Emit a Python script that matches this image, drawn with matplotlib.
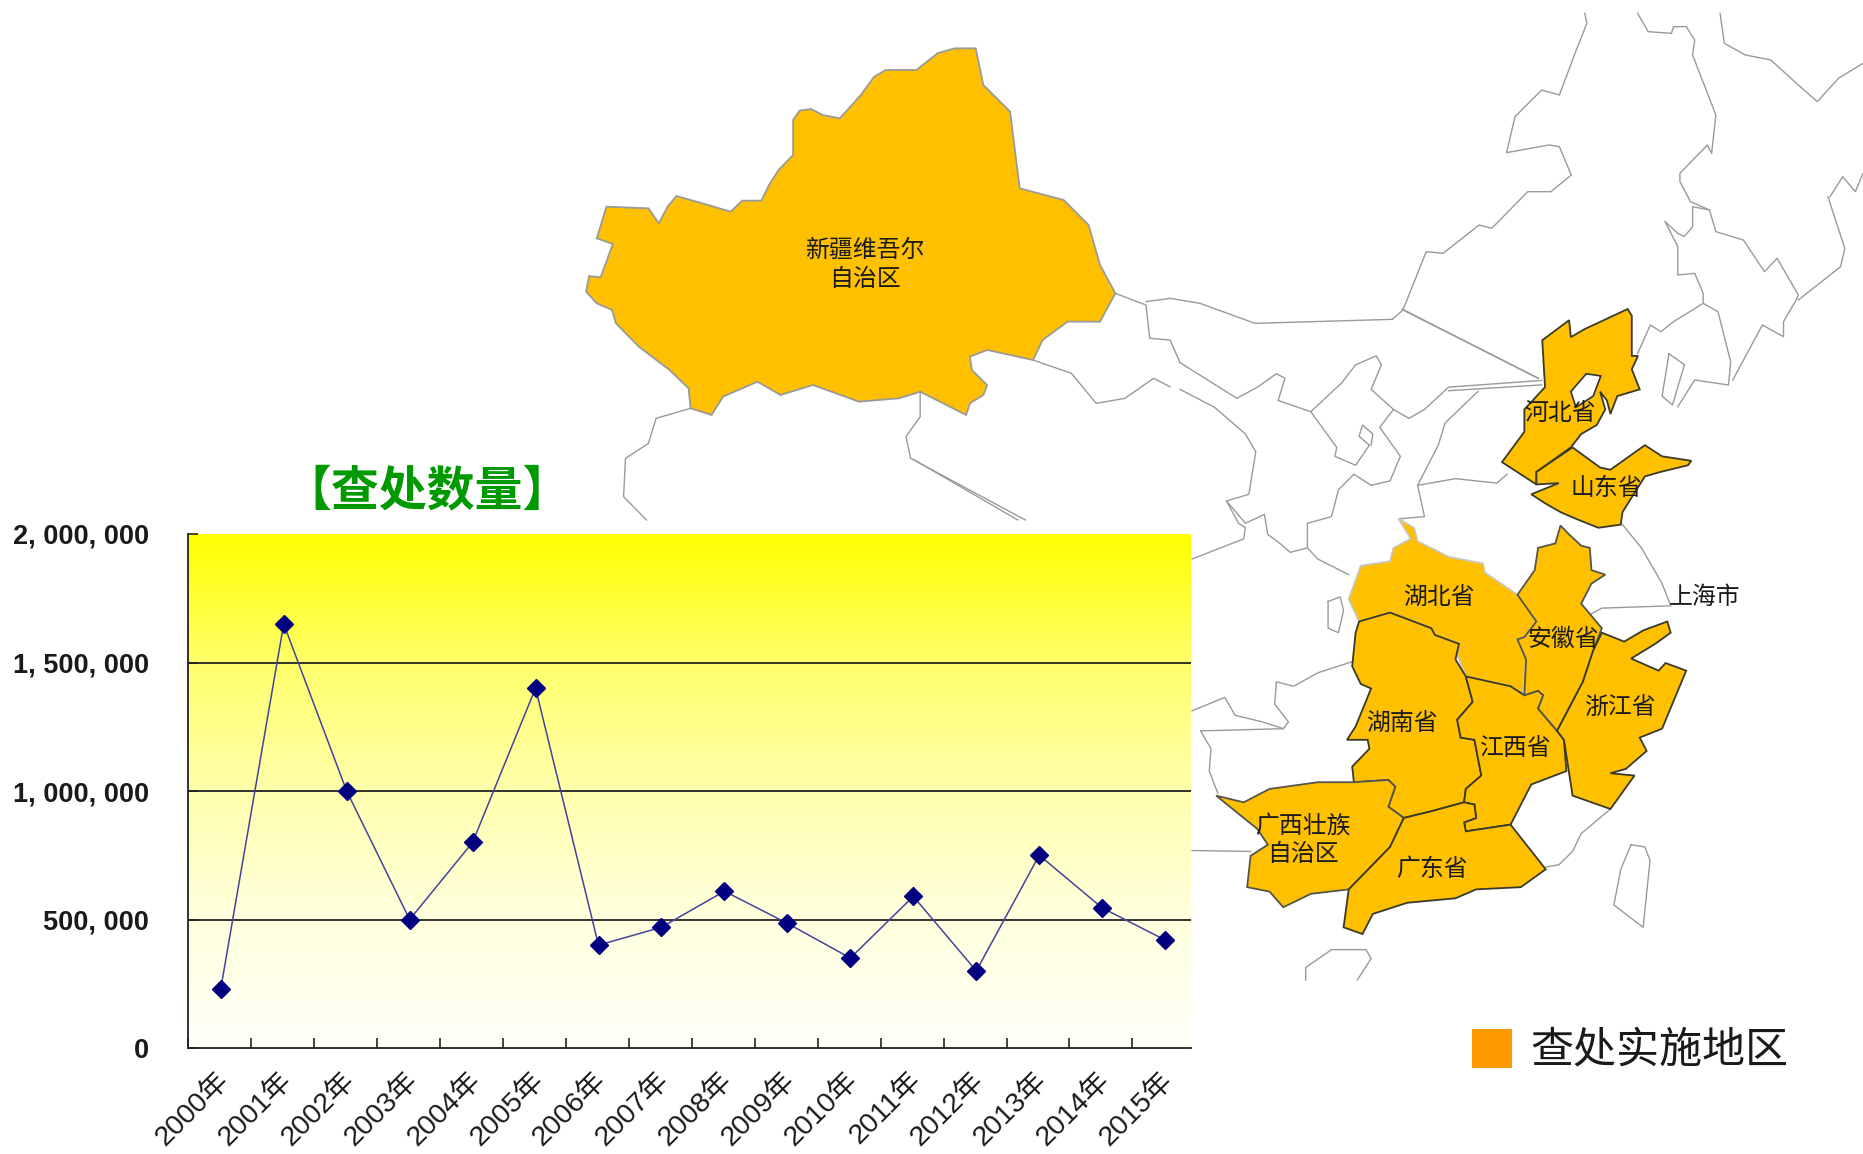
import numpy as np
import matplotlib
matplotlib.use('Agg')
import matplotlib.pyplot as plt
from matplotlib.patches import Polygon, Rectangle
from matplotlib.transforms import ScaledTranslation

plt.rcParams['font.family'] = ['Liberation Sans', 'Noto Sans CJK SC', 'DejaVu Sans']

# chart data
years = ['2000年', '2001年', '2002年', '2003年', '2004年', '2005年', '2006年', '2007年',
         '2008年', '2009年', '2010年', '2011年', '2012年', '2013年', '2014年', '2015年']
counts = [230000, 1650000, 1000000, 500000, 800000, 1400000, 400000, 470000,
          610000, 485000, 350000, 590000, 300000, 750000, 545000, 420000]
y_ticks = [0, 500000, 1000000, 1500000, 2000000]
y_labels = ['0', '500, 000', '1, 000, 000', '1, 500, 000', '2, 000, 000']

W, H = 1863, 1154
GOLD = '#FFC000'

# map outlines
def z2(pts):
    return [(1180 + x / 2.904, 280 + y / 2.24) for x, y in pts]
def z3(pts):
    return [(570 + x / 2.613, 20 + y / 3.0) for x, y in pts]
def z4(pts):
    return [(1200 + x / 2.365, y / 3.0) for x, y in pts]

xinjiang = z3([(1060,85),(1005,85),(960,100),(905,150),(825,150),(795,170),(760,225),(705,295),(660,285),(630,267),
               (600,272),(583,300),(583,405),(545,450),(520,495),(500,542),(450,542),(420,575),(340,548),(278,528),
               (255,560),(232,610),(205,565),(95,560),(82,610),(70,655),(112,672),(95,725),(80,772),(50,768),(42,815),
               (70,850),(110,870),(120,910),(180,980),(260,1050),(310,1105),(315,1165),(370,1185),(400,1130),(490,1085),
               (550,1125),(635,1095),(755,1145),(860,1135),(915,1115),(1035,1185),(1045,1150),(1080,1125),(1090,1095),
               (1050,1050),(1045,1010),(1090,990),(1210,1020),(1235,960),(1300,905),(1385,905),(1425,820),(1385,735),
               (1355,615),(1290,540),(1175,505),(1150,275),(1080,195)])
hebei = z2([(1052,135),(1130,90),(1135,128),(1175,110),(1300,65),(1312,80),(1312,170),(1330,170),(1312,200),(1335,245),
            (1270,260),(1250,300),(1240,270),(1220,250),(1235,290),(1210,325),(1165,345),(1135,375),(1035,430),(1035,458),
            (935,408),(1000,340),(1000,290),(1060,240)])
bohai = z2([(1135,250),(1180,210),(1222,215),(1200,260),(1150,285)])
shandong = z2([(1140,375),(1220,420),(1250,425),(1350,370),(1400,395),(1485,405),(1475,415),(1395,430),(1350,440),
               (1285,520),(1280,548),(1215,555),(1150,535),(1105,520),(1060,500),(1020,480),(1100,455),(1035,458),(1035,430)])
hubei = z2([(635,535),(680,555),(690,585),(780,620),(880,635),(885,655),(980,705),(1035,765),(1000,800),(980,805),
            (1005,850),(995,930),(960,910),(830,888),(805,840),(810,815),(740,795),(730,780),(610,745),(520,765),
            (490,715),(525,640),(610,630),(620,600),(670,580)])
anhui = z2([(1105,550),(1130,570),(1165,595),(1190,600),(1195,650),(1235,660),(1195,680),(1165,725),(1225,780),(1200,830),
            (1170,900),(1095,1010),(1040,960),(1055,930),(1040,920),(1000,930),(1005,850),(980,805),(1000,800),(1035,765),
            (980,705),(1030,650),(1040,600),(1090,590)])
zhejiang = z2([(1225,790),(1290,810),(1345,785),(1415,765),(1425,790),(1380,815),(1310,848),(1390,875),(1410,858),(1470,875),
               (1400,1005),(1335,1025),(1355,1055),(1295,1095),(1250,1105),(1320,1110),(1250,1185),(1140,1155),(1115,1030),
               (1095,1010),(1170,900),(1200,830)])
jiangxi = z2([(830,888),(960,910),(1000,930),(1040,920),(1055,930),(1040,960),(1095,1010),(1115,1030),(1122,1100),(1020,1130),
              (960,1220),(830,1235),(825,1215),(860,1205),(855,1175),(825,1170),(830,1140),(875,1110),(855,1030),(815,1025),
              (805,985),(850,945)])
hunan = z2([(610,745),(730,780),(740,795),(810,815),(800,850),(830,888),(850,945),(805,985),(815,1025),(855,1030),(875,1110),
            (830,1140),(825,1170),(730,1190),(650,1205),(605,1180),(625,1135),(605,1120),(505,1125),(500,1090),(550,1050),
            (545,1030),(485,1030),(510,1000),(555,915),(525,905),(500,865),(510,790),(520,765)])
guangxi = z2([(105,1155),(185,1170),(260,1140),(400,1125),(505,1125),(605,1120),(625,1135),(605,1180),(650,1205),(610,1270),
              (490,1365),(380,1375),(300,1405),(260,1370),(195,1360),(205,1290),(255,1265),(225,1230)])
guangdong = z2([(650,1205),(730,1190),(825,1170),(855,1175),(860,1205),(825,1215),(830,1235),(960,1220),(1062,1320),(990,1360),
                (860,1365),(800,1385),(660,1395),(560,1420),(530,1465),(475,1450),(490,1365),(610,1270)])
# light edge for the top two, the rest have a dark outline
provinces = [(xinjiang, '#9a9a9a'), (hubei, '#c8c8c0'), (hunan, '#3a3a2a'), (jiangxi, '#3a3a2a'), (anhui, '#55554a'),
             (zhejiang, '#3a3a2a'), (guangxi, '#55554a'), (guangdong, '#3a3a2a'), (hebei, '#3a3a2a'), (shandong, '#3a3a2a')]

borders = [
    z3([(915,1115),(915,1190),(878,1250),(890,1315),(1190,1500)]),
    z3([(900,1320),(1170,1500)]),
    z3([(315,1165),(225,1195),(205,1270),(145,1315),(140,1430),(200,1500)]),
    z3([(1210,1020),(1310,1060),(1375,1150),(1450,1135),(1525,1075),(1568,1100)]),
    z3([(1425,820),(1505,855),(1515,955),(1568,960)]) + z2([(0,185)]),
    z3([(1505,845),(1568,835)]) + z4([(0,910)]),
    z2([(645,65),(1040,220)]),
    z2([(0,185),(165,265),(225,240),(280,210),(305,220),(285,270),(380,295),(470,230),(510,190),(570,170),(585,190),
        (555,245),(620,290),(665,310),(710,290),(780,240),(1050,225)]),
    z2([(780,248),(1050,235)]),
    z2([(0,245),(100,285),(190,345),(220,385),(200,480),(135,495),(170,545),(190,555),(185,580),(35,625)]),
    z2([(135,495),(190,545),(245,525),(255,570),(290,590),(320,610),(370,600),(400,625),(490,660)]),
    z2([(380,295),(455,375),(450,395),(510,415),(550,370),(520,350),(530,325),(560,345),(555,370)]),
    z2([(620,290),(580,330),(640,395),(610,450),(555,460),(505,435),(460,470),(440,530),(370,545),(370,600)]),
    z2([(865,250),(770,320),(750,370),(690,460),(710,530),(635,535)]),
    z2([(690,460),(800,445),(920,455),(950,435)]),
    z2([(1285,548),(1340,600),(1400,680),(1425,730)]),
    z2([(1225,780),(1190,750),(1225,735),(1420,730)]),
    z2([(35,965),(130,935),(160,975),(240,990),(300,1005),(315,990),(275,950),(280,900),(330,910),(400,880),(500,855)]),
    z2([(60,1010),(300,1005)]),
    z2([(60,1010),(90,1050),(85,1100),(110,1150)]),
    z2([(35,1278),(205,1280)]),
    z2([(1250,1185),(1165,1240),(1140,1280),(1100,1310),(1062,1315)]),
    z2([(1310,1265),(1350,1270),(1365,1300),(1345,1450),(1260,1400),(1280,1320),(1310,1265)]),
    z2([(365,1568),(365,1540),(440,1500),(540,1500),(555,1520),(515,1568)]),
    z2([(430,720),(465,710),(475,740),(460,790),(430,780),(430,720)]),
    z2([(1420,165),(1465,190),(1430,280),(1400,260),(1420,165)]),
    z4([(910,40),(915,70),(890,150),(850,285),(808,270),(745,350),(725,458),(825,435),(850,440),(878,525),(830,575),(775,575),
        (690,685),(660,675),(575,760),(535,755),(480,930),(455,958),(130,970),(0,910)]),
    z4([(480,930),(800,1135)]),
    z4([(1035,40),(1060,95),(1115,100),(1120,80),(1150,80),(1170,120),(1165,165),(1220,345),(1210,460),(1200,435),(1135,520),
        (1135,545),(1160,605),(1205,630),(1220,695),(1285,720),(1335,815),(1365,775),(1415,885),(1410,900),(1380,965),(1380,1010),
        (1330,975),(1260,1140)]),
    z4([(1230,40),(1240,130),(1290,165),(1350,180),(1415,255),(1460,305),(1510,235),(1568,190)]),
    z4([(1100,665),(1130,700),(1145,710),(1165,680),(1165,620),(1205,630)]),
    z4([(1100,665),(1130,740),(1130,825),(1170,820),(1190,880),(1190,910),(1225,935),(1255,1085),(1250,1155),(1170,1140),(1130,1220)]),
    z4([(1190,910),(1120,965),(1090,995),(1065,975),(1035,1060)]),
    z4([(1490,590),(1520,530),(1550,575),(1568,520)]),
    z4([(1485,590),(1525,745),(1515,800),(1415,900)]),
]

map_labels = [('新疆维吾尔', 865, 251), ('自治区', 865, 280), ('河北省', 1560, 414), ('山东省', 1606, 489),
              ('湖北省', 1439, 598), ('上海市', 1705, 598), ('安徽省', 1563, 640), ('浙江省', 1620, 708),
              ('湖南省', 1402, 724), ('江西省', 1515, 749), ('广西壮族', 1303, 826), ('自治区', 1303, 855),
              ('广东省', 1432, 870)]

fig = plt.figure(figsize=(W / 100, H / 100), dpi=100)

# background axes in pixels for the map
bg = fig.add_axes([0, 0, 1, 1])
bg.set_xlim(0, W)
bg.set_ylim(H, 0)
bg.axis('off')

for line in borders:
    xs, ys = zip(*line)
    bg.plot(xs, ys, color='#9a9a9a', lw=1.0, zorder=1)
for p, edge in provinces:
    bg.add_patch(Polygon(p, closed=True, facecolor=GOLD, edgecolor=edge, lw=1.3, zorder=2))
bg.add_patch(Polygon(bohai, closed=True, facecolor='white', edgecolor='#333333', lw=1.2, zorder=3))
for txt, x, y in map_labels:
    bg.text(x, y, txt, fontsize=17.2, color='#1a1a1a', ha='center', va='center', zorder=5)

# the chart sits on a white panel that hides the map below it
bg.add_patch(Rectangle((0, 523), 1191, H - 523, facecolor='white', edgecolor='none', zorder=4))
bg.text(427, 493, '【查处数量】', fontsize=34.5, color='#009900', fontweight='bold',
        ha='center', va='center', zorder=5)

# legend
bg.add_patch(Rectangle((1472, 1029), 40, 39, facecolor='#FF9900', edgecolor='none', zorder=5))
bg.text(1530, 1052, '查处实施地区', fontsize=31, color='#1a1a1a', ha='left', va='center', zorder=5)

# line chart
left, right, top, bottom = 188, 1191, 534, 1048
x0, x1 = -0.52, 15.41
ax = fig.add_axes([left / W, 1 - bottom / H, (right - left) / W, (bottom - top) / H])
grad = np.array([[1, 1, 0.0], [1, 1, 0.42], [1, 1, 0.68], [1, 1, 0.87], [1, 1, 0.97]])
stops = np.linspace(0, 1, 5)
n = 256
rows = np.stack([np.interp(np.linspace(0, 1, n), stops, grad[:, c]) for c in range(3)], axis=1)
ax.imshow(rows[:, None, :], extent=[x0, x1, 0, 2000000], aspect='auto', zorder=0)

x = np.arange(len(years))
ax.plot(x, counts, color='#44449a', lw=1.1, marker='D', ms=9, mfc='#000080', mec='#000080',
        zorder=3, clip_on=False)
for v in y_ticks[1:-1]:
    ax.axhline(v, color='#222222', lw=1.3, zorder=2)

ax.set_xlim(x0, x1)
ax.set_ylim(0, 2000000)
for s in ['top', 'right']:
    ax.spines[s].set_visible(False)
for s in ['left', 'bottom']:
    ax.spines[s].set_color('#222222')
    ax.spines[s].set_linewidth(1.3)

ax.set_yticks(y_ticks)
ax.set_yticklabels(y_labels, fontsize=19.5, color='#1a1a1a', fontweight='bold')
ax.tick_params(axis='y', direction='in', length=7, width=1.2, pad=28, color='#222222')
ax.set_xticks(x)
ax.set_xticklabels(years, fontsize=20.5, color='#1a1a1a', rotation=45, ha='right',
                   rotation_mode='anchor')
ax.tick_params(axis='x', which='major', length=0, pad=14)
shift = ScaledTranslation(-5 / 100, 0, fig.dpi_scale_trans)
for lab in ax.get_xticklabels():
    lab.set_transform(lab.get_transform() + shift)
ax.set_xticks(np.arange(x0, x1, 1), minor=True)
ax.tick_params(axis='x', which='minor', direction='in', length=7, width=1.2, color='#222222')

fig.savefig('out.png', dpi=100)
